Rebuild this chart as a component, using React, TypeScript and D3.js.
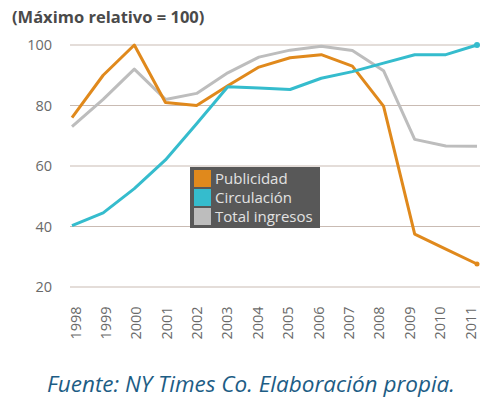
import React from "react";
import * as d3 from "d3";

const years = [1998, 1999, 2000, 2001, 2002, 2003, 2004, 2005, 2006, 2007, 2008, 2009, 2010, 2011];
const publicidad = [76, 90, 100, 81, 80, 86.5, 92.7, 95.8, 96.8, 93, 79.8, 37.5, 32.5, 27.6];
const circulacion = [40.3, 44.5, 52.5, 62, 74, 86.2, 85.8, 85.3, 89, 91.2, 94, 96.8, 96.8, 100];
const totalIngresos = [73, 82, 92, 82, 84, 90.8, 96, 98.3, 99.6, 98.2, 91.5, 68.8, 66.6, 66.5];
const yTicks = [20, 40, 60, 80, 100];
const seriesNames = ["Publicidad", "Circulación", "Total ingresos"];
const seriesColors = ["#e0891c", "#35bccd", "#bdbdbd"];

export default function App() {
  const W = 486, H = 406;
  const x = d3.scaleLinear().domain([1998, 2011]).range([72, 477]);
  const y = d3.scaleLinear().domain([20, 100]).range([287, 45]);
  const line = d3.line<number>().x((_, i) => x(years[i])).y((d) => y(d));
  const series = [publicidad, circulacion, totalIngresos];
  const font = "'Open Sans', sans-serif";
  return (
    <svg width={W} height={H} style={{ position: "absolute", left: 0, top: 0, background: "#fff" }}>
      <text x={12} y={23} fontFamily={font} fontWeight={700} fontSize={16.5} fill="#4a4a4a">
        (Máximo relativo = 100)
      </text>
      {yTicks.map((t) => (
        <g key={t}>
          <line x1={70} x2={480} y1={y(t)} y2={y(t)} stroke="#c9bbb3" strokeWidth={1.2} />
          <text x={52} y={y(t) + 5} textAnchor="end" fontFamily={font} fontSize={14.5} fill="#6a6a6a">
            {t}
          </text>
        </g>
      ))}
      {years.map((yr, i) => {
        const lx = 75 + i * ((470 - 75) / 13);
        return (
          <text key={yr} transform={`translate(${lx + 5.5},${323}) rotate(-90)`} textAnchor="middle"
            fontFamily={font} fontSize={14.5} fill="#6a6a6a">
            {yr}
          </text>
        );
      })}
      {[2, 0, 1].map((si) => (
        <path key={si} d={line(series[si]) || ""} fill="none" stroke={seriesColors[si]} strokeWidth={3}
          strokeLinejoin="round" />
      ))}
      <circle cx={x(2011)} cy={y(circulacion[13])} r={3} fill={seriesColors[1]} />
      <circle cx={x(2011)} cy={y(publicidad[13])} r={2.5} fill={seriesColors[0]} />
      <g>
        <rect x={190} y={167} width={130} height={61} fill="#585858" />
        {seriesNames.map((n, i) => (
          <g key={n}>
            <rect x={194} y={170 + i * 19} width={17} height={17} fill={seriesColors[i]} />
            <text x={215} y={184 + i * 19} fontFamily={font} fontSize={15} fill="#e2e2e2">
              {n}
            </text>
          </g>
        ))}
      </g>
      <text x={251} y={392} textAnchor="middle" fontFamily={font} fontStyle="italic" fontSize={22.5} fill="#1d5d85">
        Fuente: NY Times Co. Elaboración propia.
      </text>
    </svg>
  );
}
